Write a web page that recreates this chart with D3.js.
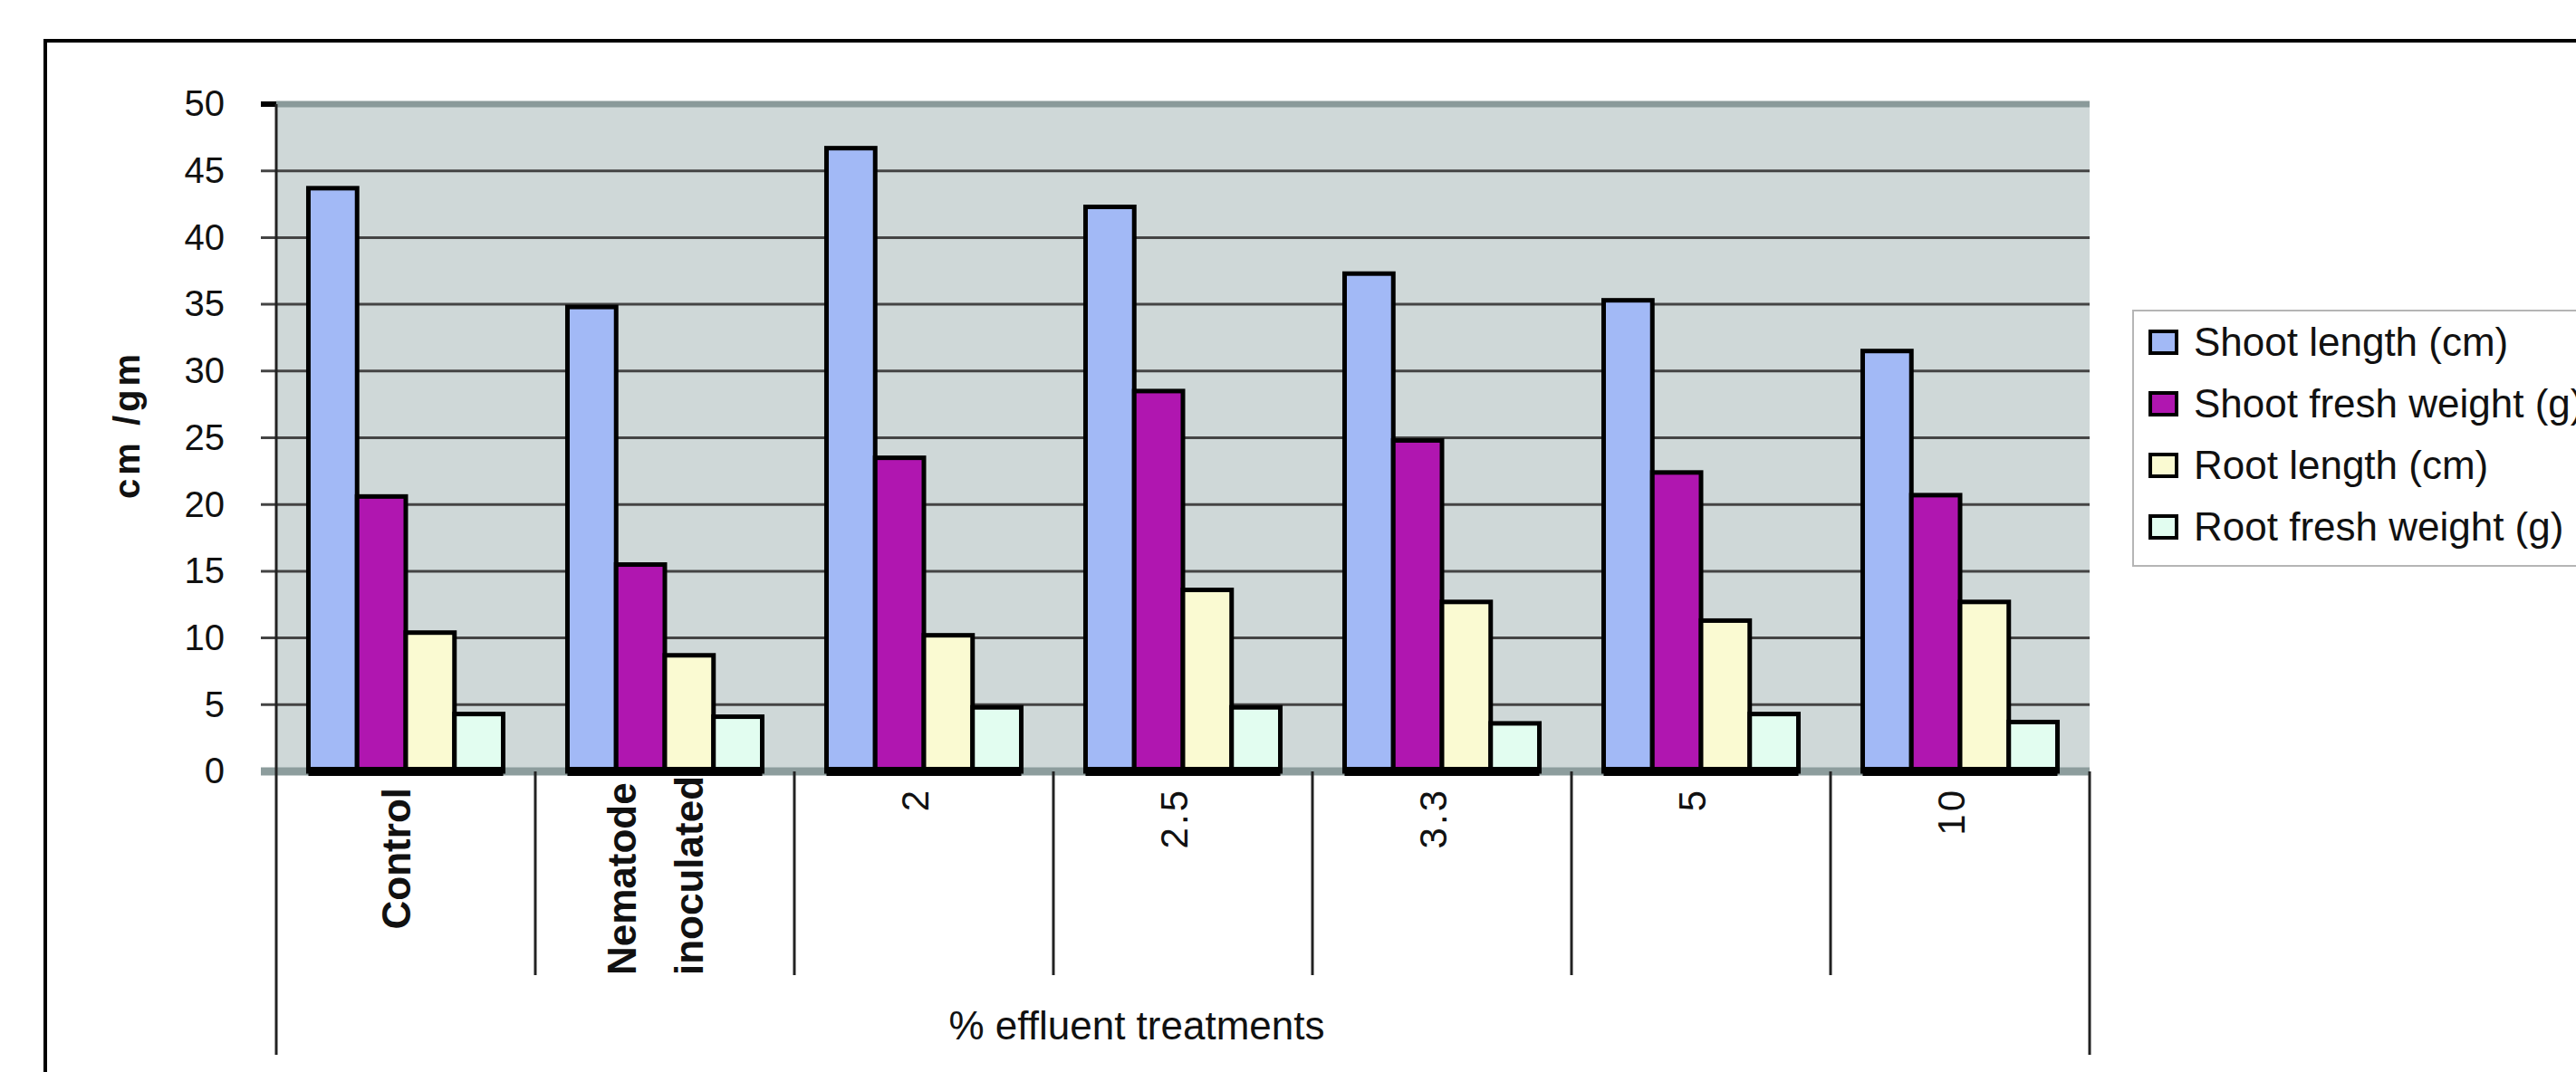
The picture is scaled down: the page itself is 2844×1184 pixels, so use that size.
<!DOCTYPE html>
<html>
<head>
<meta charset="utf-8">
<script src="https://cdn.jsdelivr.net/npm/d3@7"></script>
<style>
  body { margin: 0; background: #fff; }
  svg { display: block; font-family: "Liberation Sans", Arial, sans-serif; }
</style>
</head>
<body>
<svg id="chart"></svg>
<script>
// treatments on the x axis
const categories = ['Control', 'Nematode inoculated', '2', '2.5', '3.3', '5', '10'];
const seriesNames = ['Shoot length (cm)', 'Shoot fresh weight (g)', 'Root length (cm)', 'Root fresh weight (g)'];

// values
const shootLength = [43.7, 34.8, 46.7, 42.3, 37.3, 35.3, 31.5];
const shootWeight = [20.6, 15.5, 23.5, 28.5, 24.8, 22.4, 20.7];
const rootLength  = [10.4, 8.7, 10.2, 13.6, 12.7, 11.3, 12.7];
const rootWeight  = [4.3, 4.1, 4.8, 4.8, 3.6, 4.3, 3.7];

const yTicks = [0, 5, 10, 15, 20, 25, 30, 35, 40, 45, 50];
const yTitle = 'cm /gm';
const xTitle = '% effluent treatments';

const seriesColors = ['#a2b9f6', '#b016b0', '#fafad2', '#e2fdf0'];

class GroupedBars {

    constructor(_config, _data) {
        this.config = {
            parentElement: _config.parentElement,
            containerWidth: _config.containerWidth || 2844,
            containerHeight: _config.containerHeight || 1184,
            margin: { top: 115, bottom: 332, right: 537, left: 305 }
        }
        this.data = _data;
        this.initVis();
    }

    initVis() {
        let vis = this;

        vis.width = vis.config.containerWidth - vis.config.margin.left - vis.config.margin.right;
        vis.height = vis.config.containerHeight - vis.config.margin.top - vis.config.margin.bottom;

        vis.svg = d3.select(vis.config.parentElement)
            .attr('width', vis.config.containerWidth)
            .attr('height', vis.config.containerHeight);

        // outer chart frame (runs off the right and bottom)
        vis.svg.append('rect')
            .attr('x', 50).attr('y', 45)
            .attr('width', 3000).attr('height', 1400)
            .attr('fill', 'none')
            .attr('stroke', '#000')
            .attr('stroke-width', 4);

        vis.chart = vis.svg.append('g')
            .attr('transform', `translate(${vis.config.margin.left},${vis.config.margin.top})`);

        vis.xScale = d3.scaleBand().domain(categories).range([0, vis.width]).padding(0);
        vis.xInner = d3.scaleBand().domain(seriesNames).range([0, vis.xScale.bandwidth()])
            .paddingInner(0).paddingOuter(0.66);
        vis.yScale = d3.scaleLinear().domain([0, 50]).range([vis.height, 0]);

        vis.colorScale = d3.scaleOrdinal().domain(seriesNames).range(seriesColors);

        vis.yAxis = d3.axisLeft(vis.yScale)
            .tickValues(yTicks)
            .tickSize(17)
            .tickPadding(40)
            .tickFormat(d3.format('d'));

        vis.chart.append('rect')
            .attr('class', 'plot-bg')
            .attr('width', vis.width)
            .attr('height', vis.height)
            .attr('fill', '#cfd8d8');

        vis.gridG = vis.chart.append('g').attr('class', 'grid');
        vis.yAxisG = vis.chart.append('g').attr('class', 'axis y-axis');
        vis.barsG = vis.chart.append('g').attr('class', 'bars');
        vis.catG = vis.chart.append('g').attr('class', 'cat-axis');
        vis.legendG = vis.svg.append('g').attr('class', 'legend');
    }

    updateVis() {
        let vis = this;
        vis.groups = categories.map((c, i) => ({
            cat: c,
            values: seriesNames.map((s, j) => ({ series: s, value: vis.data[j][i] }))
        }));
        vis.renderVis();
    }

    renderVis() {
        let vis = this;
        const h = vis.height, w = vis.width;

        // horizontal gridlines
        vis.gridG.selectAll('line')
            .data(yTicks.filter(t => t > 0 && t < 50))
            .join('line')
                .attr('x1', -17).attr('x2', w)
                .attr('y1', d => vis.yScale(d)).attr('y2', d => vis.yScale(d))
                .attr('stroke', '#444')
                .attr('stroke-width', 3);

        // top edge of plot area
        vis.gridG.append('line')
            .attr('x1', 0).attr('x2', w)
            .attr('y1', vis.yScale(50)).attr('y2', vis.yScale(50))
            .attr('stroke', '#8a9a9a').attr('stroke-width', 7);
        vis.gridG.append('line')
            .attr('x1', -17).attr('x2', 0)
            .attr('y1', vis.yScale(50)).attr('y2', vis.yScale(50))
            .attr('stroke', '#000').attr('stroke-width', 6);

        // axis at zero
        vis.gridG.append('line')
            .attr('x1', -17).attr('x2', w)
            .attr('y1', vis.yScale(0)).attr('y2', vis.yScale(0))
            .attr('stroke', '#8d9d9d').attr('stroke-width', 9);

        vis.yAxisG.call(vis.yAxis);
        vis.yAxisG.select('.domain').remove();
        vis.yAxisG.selectAll('.tick line').attr('stroke', 'none');
        vis.yAxisG.selectAll('.tick text')
            .attr('font-size', 40)
            .attr('font-family', '"Liberation Sans", Arial, sans-serif')
            .attr('fill', '#111');

        // bars
        const group = vis.barsG.selectAll('.group')
            .data(vis.groups)
            .join('g')
                .attr('class', 'group')
                .attr('transform', d => `translate(${vis.xScale(d.cat)},0)`);

        group.selectAll('.bar')
            .data(d => d.values)
            .join('rect')
                .attr('class', 'bar')
                .attr('x', d => vis.xInner(d.series))
                .attr('y', d => vis.yScale(d.value))
                .attr('width', vis.xInner.bandwidth())
                .attr('height', d => h - vis.yScale(d.value))
                .attr('fill', d => vis.colorScale(d.series))
                .attr('stroke', '#000')
                .attr('stroke-width', 5);

        group.append('rect')
            .attr('x', vis.xInner(seriesNames[0]))
            .attr('y', h - 5)
            .attr('width', vis.xInner.bandwidth() * seriesNames.length)
            .attr('height', 10)
            .attr('fill', '#000');

        // category axis: dividers, labels, outer lines
        vis.catG.selectAll('.divider')
            .data(categories.slice(1))
            .join('line')
                .attr('class', 'divider')
                .attr('x1', d => vis.xScale(d)).attr('x2', d => vis.xScale(d))
                .attr('y1', h).attr('y2', h + 225)
                .attr('stroke', '#222').attr('stroke-width', 3);

        vis.catG.selectAll('.edge')
            .data([[0, vis.yScale(50)], [w, h]])
            .join('line')
                .attr('class', 'edge')
                .attr('x1', d => d[0]).attr('x2', d => d[0])
                .attr('y1', d => d[1]).attr('y2', h + 313)
                .attr('stroke', '#222').attr('stroke-width', 3);

        vis.catG.selectAll('.cat-label')
            .data(categories)
            .join('text')
                .attr('class', 'cat-label')
                .attr('fill', '#111')
                .attr('font-size', d => isNaN(+d) ? 44 : 42)
                .attr('font-weight', d => isNaN(+d) ? 'bold' : 'normal')
                .attr('letter-spacing', d => isNaN(+d) ? 0 : 3)
                .each(function(d) {
                    const lines = d.split(' ');
                    const wrapped = lines.length > 1;
                    const cx = vis.xScale(d) + vis.xScale.bandwidth() / 2;
                    // wrapped labels sit on the bottom of the label band
                    const y = wrapped ? h + 225 : h + 18;
                    const t = d3.select(this)
                        .attr('transform', `translate(${cx + 5},${y}) rotate(-90)`)
                        .attr('text-anchor', wrapped ? 'start' : 'end');
                    t.selectAll('tspan')
                        .data(lines)
                        .join('tspan')
                            .attr('x', 0)
                            .attr('y', (l, i) => (i - (lines.length - 1) / 2) * 74)
                            .text(l => l);
                });

        vis.catG.append('text')
            .attr('x', 950).attr('y', h + 296)
            .attr('text-anchor', 'middle')
            .attr('font-size', 44)
            .attr('fill', '#111')
            .text(xTitle);

        // y title
        vis.svg.append('text')
            .attr('transform', 'translate(140,469) rotate(-90)')
            .attr('text-anchor', 'middle')
            .attr('dominant-baseline', 'central')
            .attr('font-size', 40)
            .attr('font-weight', 'bold')
            .attr('letter-spacing', 4)
            .attr('fill', '#111')
            .text(yTitle);

        // legend
        vis.legendG.append('rect')
            .attr('x', 2355).attr('y', 343)
            .attr('width', 600).attr('height', 282)
            .attr('fill', '#fff')
            .attr('stroke', '#b5b5b5')
            .attr('stroke-width', 2);

        const item = vis.legendG.selectAll('.item')
            .data(seriesNames)
            .join('g')
                .attr('class', 'item')
                .attr('transform', (d, i) => `translate(2374,${393 + i * 68})`);

        item.append('rect')
            .attr('x', 0).attr('y', -27)
            .attr('width', 29).attr('height', 24)
            .attr('fill', d => vis.colorScale(d))
            .attr('stroke', '#000')
            .attr('stroke-width', 4);

        item.append('text')
            .attr('x', 48)
            .attr('font-size', 44)
            .attr('fill', '#111')
            .text(d => d);
    }
}

const chart = new GroupedBars({ parentElement: '#chart' },
    [shootLength, shootWeight, rootLength, rootWeight]);
chart.updateVis();
</script>
</body>
</html>
